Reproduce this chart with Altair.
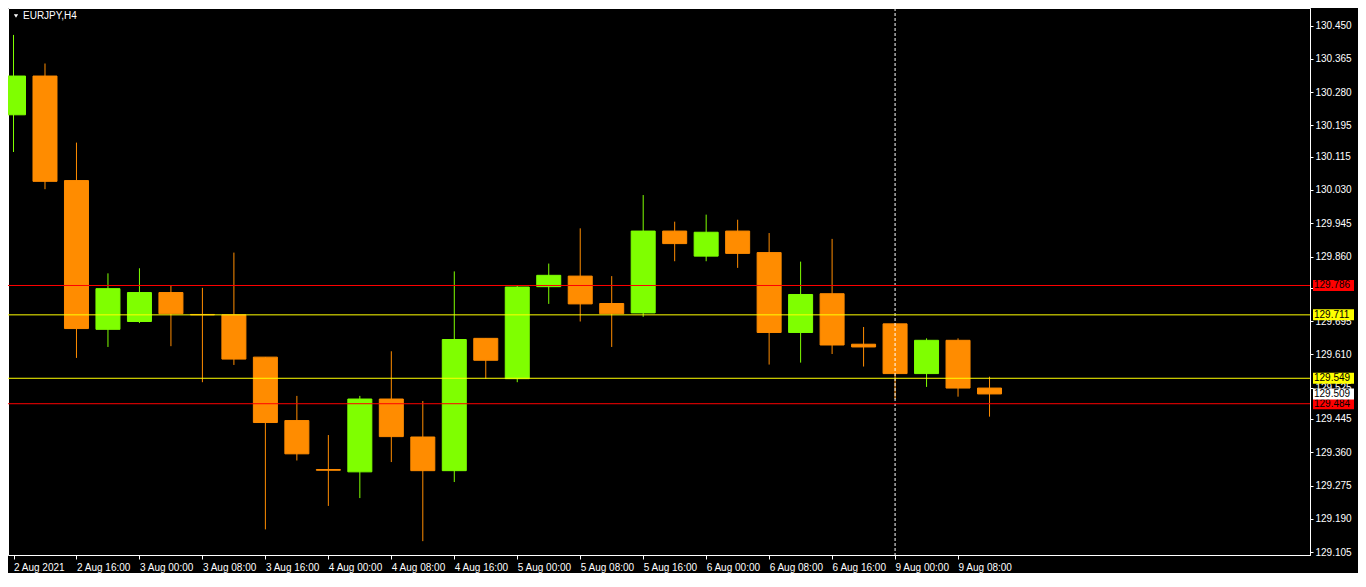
import altair as alt
import pandas as pd

# ---- data (EURJPY, H4) ----
bar_index = list(range(32))
opens = [130.222, 130.321, 130.054, 129.674, 129.694, 129.768, 129.712, 129.711,
         129.603, 129.441, 129.316, 129.310, 129.496, 129.399, 129.313, 129.651,
         129.548, 129.783, 129.810, 129.740, 129.716, 129.925, 129.861, 129.925,
         129.870, 129.666, 129.765, 129.636, 129.688, 129.561, 129.646, 129.524]
highs = [130.426, 130.353, 130.151, 129.817, 129.830, 129.786, 129.780, 129.870,
         129.603, 129.504, 129.404, 129.504, 129.618, 129.491, 129.822, 129.651,
         129.786, 129.842, 129.932, 129.810, 130.017, 129.949, 129.967, 129.954,
         129.920, 129.847, 129.905, 129.680, 129.690, 129.651, 129.651, 129.553]
lows = [130.127, 130.032, 129.601, 129.629, 129.690, 129.631, 129.539, 129.583,
        129.163, 129.339, 129.223, 129.243, 129.335, 129.133, 129.284, 129.548,
        129.539, 129.739, 129.694, 129.629, 129.706, 129.848, 129.848, 129.831,
        129.584, 129.589, 129.611, 129.579, 129.496, 129.527, 129.502, 129.451]
closes = [130.321, 130.052, 129.676, 129.778, 129.768, 129.714, 129.711, 129.598,
          129.436, 129.356, 129.314, 129.496, 129.400, 129.313, 129.648, 129.595,
          129.782, 129.812, 129.739, 129.714, 129.925, 129.893, 129.922, 129.868,
          129.666, 129.763, 129.634, 129.629, 129.561, 129.646, 129.524, 129.509]

time_tick_index = [0, 2, 4, 6, 8, 10, 12, 14, 16, 18, 20, 22, 24, 26, 28, 30]
time_labels = ["2 Aug 2021", "2 Aug 16:00", "3 Aug 00:00", "3 Aug 08:00",
               "3 Aug 16:00", "4 Aug 00:00", "4 Aug 08:00", "4 Aug 16:00",
               "5 Aug 00:00", "5 Aug 08:00", "5 Aug 16:00", "6 Aug 00:00",
               "6 Aug 08:00", "6 Aug 16:00", "9 Aug 00:00", "9 Aug 08:00"]
price_ticks = [130.450, 130.365, 130.280, 130.195, 130.115, 130.030, 129.945,
               129.860, 129.780, 129.695, 129.610, 129.525, 129.445, 129.360,
               129.275, 129.190, 129.105]
red_levels = [129.786, 129.484]
yellow_levels = [129.711, 129.549]
bid_level = [129.509]
separator_index = [28]
symbol_title = "EURJPY,H4"

# ---- styling ----
W, H = 1302, 547
BG = "#000000"
UP = "#7FFF00"
DOWN = "#FF8C00"
FONT = "Liberation Sans"
FS = 10

df = pd.DataFrame({"i": bar_index, "open": opens, "high": highs,
                   "low": lows, "close": closes})

xscale = alt.Scale(domain=[-0.016, 41.02], nice=False, zero=False)
yscale = alt.Scale(domain=[129.0976, 130.4948], nice=False, zero=False)
cscale = alt.Scale(domain=["up", "down"], range=[UP, DOWN])

label_js = "[" + ",".join("'%s'" % s for s in time_labels) + "]"

x_axis = alt.Axis(values=time_tick_index, labelExpr=label_js + "[datum.value/2]",
                  orient="bottom", grid=False, domainColor="#FFFFFF",
                  tickColor="#FFFFFF", tickSize=4, labelColor="#FFFFFF",
                  labelFont=FONT, labelFontSize=FS, labelAlign="left",
                  labelPadding=3, labelFlush=False, labelOverlap=False,
                  title=None)
y_axis = alt.Axis(values=price_ticks, format=".3f", orient="right", grid=False,
                  domainColor="#FFFFFF", tickColor="#FFFFFF", tickSize=3,
                  labelColor="#FFFFFF", labelFont=FONT, labelFontSize=FS,
                  labelPadding=2, labelOverlap=False, labelBaseline="middle",
                  title=None)


def X(field):
    return alt.X(field, scale=xscale, axis=x_axis)


def Y(field):
    return alt.Y(field, scale=yscale, axis=y_axis)


base = alt.Chart(df).transform_calculate(
    dir="datum.close >= datum.open ? 'up' : 'down'"
)

wicks = base.mark_rule(strokeWidth=1, clip=True).encode(
    x=X("i:Q"),
    y=Y("low:Q"),
    y2="high:Q",
    color=alt.Color("dir:N", scale=cscale, legend=None),
)

bodies = base.mark_bar(size=24, strokeWidth=1, clip=True).encode(
    x=X("i:Q"),
    y=Y("open:Q"),
    y2="close:Q",
    color=alt.Color("dir:N", scale=cscale, legend=None),
    stroke=alt.Stroke("dir:N", scale=cscale, legend=None),
)

sep = alt.Chart(pd.DataFrame({"i": separator_index})).mark_rule(
    color="#FFFFFF", strokeDash=[3, 2], strokeWidth=1
).encode(x=X("i:Q"))


def price_box(levels, color, with_line):
    d = pd.DataFrame({"p": levels})
    out = []
    if with_line:
        out.append(alt.Chart(d).mark_rule(color=color, strokeWidth=1).encode(
            y=Y("p:Q"), x=alt.value(0), x2=alt.value(W)))
    out.append(alt.Chart(d).mark_tick(orient="horizontal", color=color, opacity=1,
                                      size=41, thickness=11).encode(
        y=Y("p:Q"), x=alt.value(W + 23.5)))
    out.append(alt.Chart(d).mark_text(align="left", baseline="middle",
                                      color="#000000", font=FONT,
                                      fontSize=FS).encode(
        y=Y("p:Q"), x=alt.value(W + 4), text=alt.Text("p:Q", format=".3f")))
    return out


title_df = pd.DataFrame({"t": [symbol_title]})
title_txt = alt.Chart(title_df).mark_text(
    align="left", baseline="middle", color="#FFFFFF", font=FONT, fontSize=FS
).encode(text="t:N", x=alt.value(15), y=alt.value(8))
title_tri = alt.Chart(title_df).mark_point(
    shape="triangle-down", filled=True, color="#FFFFFF", size=18, opacity=1
).encode(x=alt.value(8), y=alt.value(8))

layers = [wicks, bodies, sep]
layers += price_box(yellow_levels, "#FFFF00", True)
layers += price_box(red_levels, "#FF0000", True)
layers += price_box(bid_level, "#FFFFFF", False)
layers += [title_txt, title_tri]

chart = alt.layer(*layers).properties(
    width=W, height=H,
    autosize=alt.AutoSizeParams(type="none"),
    padding={"left": 0, "top": 0, "right": 48, "bottom": 18},
    background=BG,
).configure_view(stroke="#FFFFFF", strokeWidth=1)

chart.save("out.html", embed_options={"renderer": "svg", "actions": False})
